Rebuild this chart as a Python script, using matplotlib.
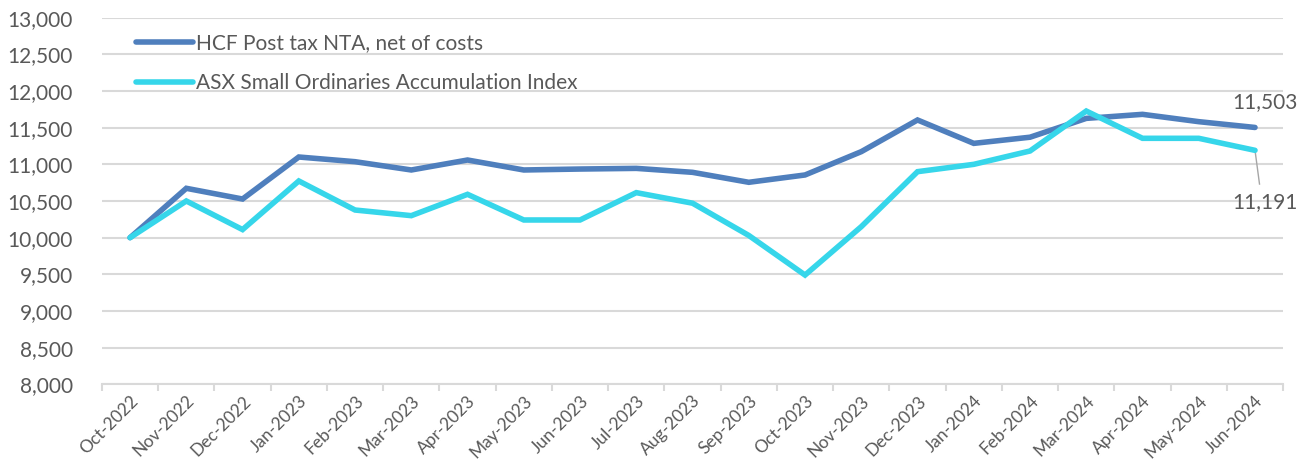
import matplotlib
matplotlib.use("Agg")
import matplotlib.pyplot as plt
from matplotlib.ticker import FuncFormatter, MultipleLocator

months = ["Oct-2022", "Nov-2022", "Dec-2022", "Jan-2023", "Feb-2023", "Mar-2023", "Apr-2023",
          "May-2023", "Jun-2023", "Jul-2023", "Aug-2023", "Sep-2023", "Oct-2023", "Nov-2023",
          "Dec-2023", "Jan-2024", "Feb-2024", "Mar-2024", "Apr-2024", "May-2024", "Jun-2024"]
hcf = [10000, 10673, 10527, 11100, 11036, 10923, 11059, 10923, 10936, 10945, 10891,
       10755, 10855, 11173, 11605, 11286, 11370, 11627, 11682, 11582, 11503]
asx = [10000, 10500, 10110, 10773, 10377, 10300, 10591, 10241, 10241, 10614, 10470,
       10030, 9490, 10150, 10900, 11000, 11182, 11727, 11355, 11355, 11191]
labels = ["HCF Post tax NTA, net of costs", "ASX Small Ordinaries Accumulation Index"]

plt.rcParams['font.family'] = ['Lato', 'DejaVu Sans']
txt = '#595959'
grid = '#D9D9D9'
c1 = '#4F7FBD'
c2 = '#36D6EA'
fs = 15

fig = plt.figure(figsize=(13.12, 4.61), dpi=100)
ax = fig.add_axes([0.0777, 0.1664, 0.9003, 0.7952])

x = list(range(len(months)))
ax.plot(x, hcf, color=c1, lw=4, solid_joinstyle='miter', solid_capstyle='round',
        label=labels[0], zorder=3)
ax.plot(x, asx, color=c2, lw=4, solid_joinstyle='miter', solid_capstyle='round',
        label=labels[1], zorder=3)

ax.set_xlim(-0.5, len(months) - 0.5)
ax.set_ylim(8000, 13000)
ax.yaxis.set_major_locator(MultipleLocator(500))
ax.yaxis.set_major_formatter(FuncFormatter(lambda v, p: f"{int(v):,}"))
ax.grid(axis='y', color=grid, lw=1.5, zorder=0)
ax.set_axisbelow(True)

for s in ['top', 'right', 'left']:
    ax.spines[s].set_visible(False)
ax.spines['bottom'].set_color(grid)
ax.spines['bottom'].set_linewidth(1.5)

ax.tick_params(axis='y', length=0, pad=21, labelsize=fs, labelcolor=txt)
ax.set_xticks(x)
ax.set_xticklabels(months, rotation=45, ha='right', rotation_mode='anchor',
                   fontsize=12.5, color=txt)
ax.tick_params(axis='x', length=0, pad=6)
ax.set_xticks([i - 0.5 for i in range(len(months) + 1)], minor=True)
ax.tick_params(axis='x', which='minor', length=5, width=1.5, color=grid)

leg = ax.legend(loc='upper left', bbox_to_anchor=(0.013, 1.008), frameon=False,
                fontsize=fs, handlelength=2.75, handletextpad=0.15, labelspacing=0.93,
                labelcolor=txt)

last = len(months) - 1
ax.annotate(f"{hcf[-1]:,}", xy=(last, hcf[-1]), xytext=(last + 0.18, hcf[-1] + 340),
            ha='center', va='center', fontsize=fs, color=txt)
ax.annotate(f"{asx[-1]:,}", xy=(last, asx[-1]), xytext=(last + 0.18, asx[-1] - 700),
            ha='center', va='center', fontsize=fs, color=txt)
ax.plot([last, last + 0.08], [asx[-1], asx[-1] - 460], color='#A6A6A6', lw=1, zorder=2)

fig.savefig("out.png", dpi=100)
